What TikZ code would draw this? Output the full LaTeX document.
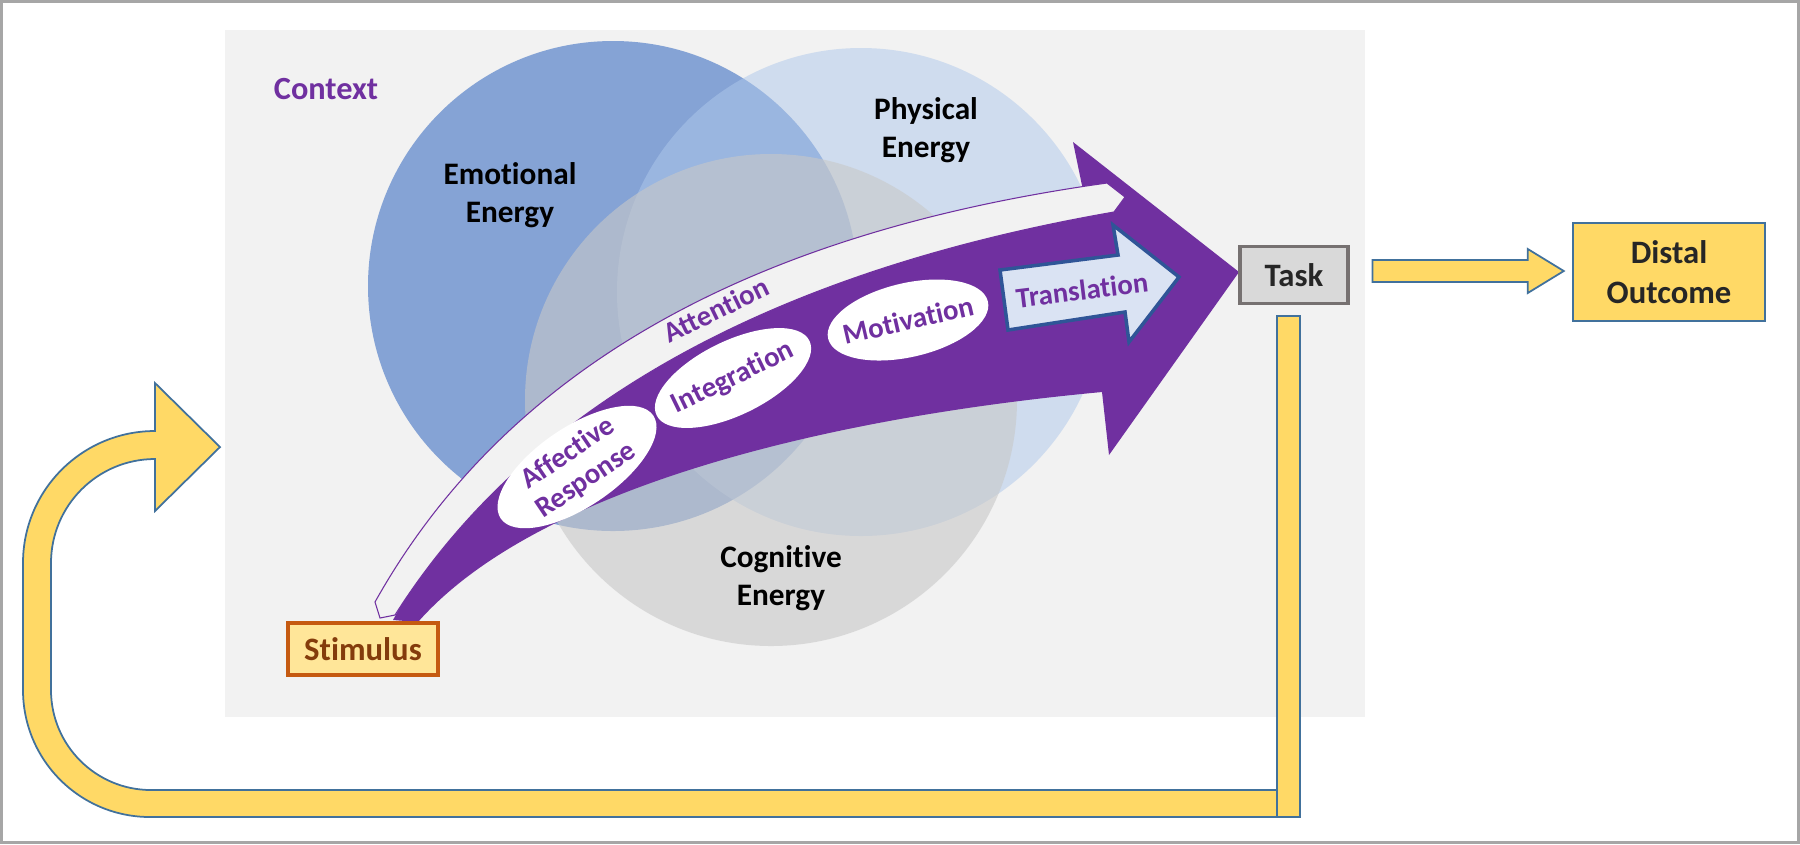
\documentclass[tikz,border=0pt]{standalone}
\usepackage{fontspec}
\setmainfont{Carlito}[Ligatures={NoCommon,NoContextual}]
\usetikzlibrary{shapes.geometric,calc}
\definecolor{ctxpurple}{HTML}{7030A0}
\definecolor{emoblue}{RGB}{133,163,213}
\definecolor{phyblue}{RGB}{175,200,235}
\definecolor{coggray}{RGB}{200,200,200}
\definecolor{bggray}{HTML}{F2F2F2}
\definecolor{framegray}{HTML}{A6A6A6}
\definecolor{flowyellow}{HTML}{FFD966}
\definecolor{edgeblue}{HTML}{41719C}
\definecolor{taskgray}{HTML}{D9D9D9}
\definecolor{taskedge}{HTML}{767171}
\definecolor{stimfill}{HTML}{FFE699}
\definecolor{stimedge}{HTML}{C55A11}
\definecolor{stimtext}{HTML}{843C0C}
\definecolor{transfill}{HTML}{DAE3F3}
\definecolor{transedge}{HTML}{2F5597}
\tikzstyle{energy}=[align=center, text=black, font=\fontsize{8.9}{10.8}\selectfont\bfseries]
\tikzstyle{stage}=[ellipse, fill=white, inner sep=0pt]
\tikzstyle{stagetext}=[align=center, text=ctxpurple, inner sep=0pt, font=\fontsize{8.2}{9.2}\selectfont\bfseries]
\tikzstyle{taskbox}=[draw, line width=0.9pt, align=center, inner sep=0pt, text=black!85, font=\fontsize{9.3}{11.4}\selectfont\bfseries]
\tikzstyle{flowarrow}=[fill=flowyellow, draw=edgeblue, line width=0.5pt]
\newcommand{\energy}{\node[energy]}
\newcommand{\stage}{\node[stage]}

\begin{document}
\begin{tikzpicture}[x=0.1mm, y=-0.1mm]
\useasboundingbox (0,0) rectangle (1800,844);
\draw[framegray, line width=0.3mm] (1.5,1.5) rectangle (1798.5,842.5);
\fill[bggray] (225,30) rectangle (1365,717);
\node[text=ctxpurple, font=\fontsize{9.2}{11}\selectfont\bfseries] (context) at (326,89) {Context};

% the three energies
\fill[emoblue] (613,286) circle[radius=24.5mm];
\fill[phyblue, fill opacity=0.52] (861,292) circle[radius=24.4mm];
\fill[coggray, fill opacity=0.6] (771,400) circle[radius=24.6mm];
\energy (emo) at (510,195) {Emotional\\Energy};
\energy (phy) at (926,130) {Physical\\Energy};
\energy (cog) at (781,578) {Cognitive\\Energy};

% process arrow
\fill[ctxpurple] (393,620) .. controls (505,415) and (735,262) .. (1085,200)
  -- (1073,142) -- (1239,272) -- (1109,455) -- (1102,392)
  .. controls (802,420) and (530,495) .. (418,622) -- cycle;
\filldraw[fill=bggray, draw=ctxpurple, line width=0.3pt] (375,602)
  .. controls (515,352) and (777,229) .. (1107,183) -- (1125,197) -- (1114,212)
  .. controls (740,277) and (515,425) .. (395,615) -- (380,618) -- cycle;
\node[stagetext, rotate=26] (attn) at (716,310) {Attention};

\stage[minimum width=18.4mm, minimum height=8mm, rotate=34] (aff) at (577,467) {};
\node[stagetext, rotate=34] (aff-t) at (aff.center) {Affective\\Response};
\stage[minimum width=17mm, minimum height=7.4mm, rotate=26] (integ) at (733,378) {};
\node[stagetext, rotate=26] (integ-t) at (integ.center) {Integration};
\stage[minimum width=16.4mm, minimum height=7.4mm, rotate=13] (motiv) at (908,320) {};
\node[stagetext, rotate=13] (motiv-t) at (motiv.center) {Motivation};

\filldraw[fill=transfill, draw=transedge, line width=1pt] (1000,270) -- (1118,255) -- (1113,225)
  -- (1179,277) -- (1129,342) -- (1125,312) -- (1008,330) -- cycle;
\node[stagetext, rotate=7] (trans) at (1082,290) {Translation};

% boxes
\node[taskbox, fill=taskgray, draw=taskedge, minimum width=10.8mm, minimum height=5.7mm] (task) at (1294,275) {Task};
\node[taskbox, fill=flowyellow, draw=edgeblue, line width=0.7pt, minimum width=19.2mm, minimum height=9.8mm] (distal) at (1669,272) {Distal\\Outcome};
\node[taskbox, fill=stimfill, draw=stimedge, text=stimtext, minimum width=15mm, minimum height=5.2mm] (stim) at (363,649) {Stimulus};

% task to outcome
\coordinate (fwd-a) at ($(task.east)+(23,-4)$);
\coordinate (fwd-b) at ($(distal.west)+(-8,-1)$);
\filldraw[flowarrow] ($(fwd-a)+(0,-11)$) -- ($(fwd-b)+(-36,-11)$) -- ($(fwd-b)+(-36,-22)$) -- (fwd-b)
  -- ($(fwd-b)+(-36,22)$) -- ($(fwd-b)+(-36,11)$) -- ($(fwd-a)+(0,11)$) -- cycle;

% feedback loop
\filldraw[flowarrow] (1277,817) -- (150,817) arc[start angle=270, end angle=180, radius=12.7mm]
  -- (23,563) arc[start angle=180, end angle=90, radius=13.2mm]
  -- (155,383) -- (220,447) -- (155,511) -- (155,459)
  arc[start angle=90, end angle=180, radius=10.4mm]
  -- (51,690) arc[start angle=180, end angle=270, radius=10mm]
  -- (1277,790) -- cycle;
\filldraw[flowarrow] (1277,316) rectangle (1300,817);
\end{tikzpicture}
\end{document}
